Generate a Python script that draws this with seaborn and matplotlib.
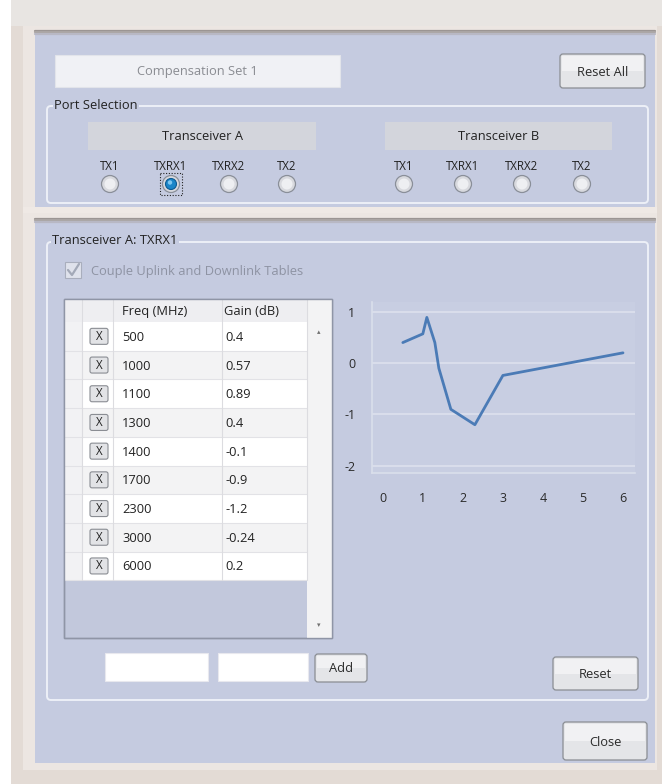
import numpy as np
import pandas as pd
import matplotlib
matplotlib.use("Agg")
import matplotlib.pyplot as plt
import seaborn as sns
from matplotlib.patches import Rectangle, FancyBboxPatch, Circle

# ---------------- data ----------------
freq_mhz = [500, 1000, 1100, 1300, 1400, 1700, 2300, 3000, 6000]
gain_db = [0.4, 0.57, 0.89, 0.4, -0.1, -0.9, -1.2, -0.24, 0.2]
freq_labels = ["500", "1000", "1100", "1300", "1400", "1700", "2300", "3000", "6000"]
gain_labels = ["0.4", "0.57", "0.89", "0.4", "-0.1", "-0.9", "-1.2", "-0.24", "0.2"]
x_ticks = [0, 1, 2, 3, 4, 5, 6]
y_ticks = [-2, -1, 0, 1]
ports = ["TX1", "TXRX1", "TXRX2", "TX2"]
transceivers = ["Transceiver A", "Transceiver B"]

sns.set_theme(style="white")
plt.rcParams['font.family'] = ['Open Sans', 'DejaVu Sans']

W, H = 662, 784
fig = plt.figure(figsize=(W / 100, H / 100), dpi=100)
fig.patch.set_facecolor("white")

bg = fig.add_axes([0, 0, 1, 1])
bg.set_xlim(0, W)
bg.set_ylim(H, 0)
bg.axis("off")

PANEL = "#c5cbe0"
BEIGE = "#e3dbd5"
TXT = "#222222"
FS = 9.3


def rect(x0, y0, x1, y1, fc, ec="none", lw=0.8, z=1, ls="-"):
    bg.add_patch(Rectangle((x0, y0), x1 - x0, y1 - y0, facecolor=fc,
                           edgecolor=ec, lw=lw, zorder=z, ls=ls))


def rrect(x0, y0, x1, y1, fc, ec="none", lw=0.8, z=1, r=3):
    bg.add_patch(FancyBboxPatch((x0 + r, y0 + r), x1 - x0 - 2 * r, y1 - y0 - 2 * r,
                                boxstyle=f"round,pad={r}", facecolor=fc,
                                edgecolor=ec, lw=lw, zorder=z))


def txt(x, y, s, ha="left", color=TXT, fs=FS, z=5, bgc=None):
    t = bg.text(x, y, s, ha=ha, va="center", color=color, fontsize=fs, zorder=z)
    if bgc:
        t.set_bbox(dict(facecolor=bgc, edgecolor="none", pad=1.0))
    return t


def button(x0, y0, x1, y1, label):
    rrect(x0, y0, x1, y1, "#e4e5e8", ec="#8a8d93", lw=0.9, z=3, r=3)
    rect(x0 + 2, y0 + 2, x1 - 2, (y0 + y1) / 2, "#f1f1f3", z=3.5)
    txt((x0 + x1) / 2, (y0 + y1) / 2 + 1, label, ha="center", color="#2a2a2a", z=6)


# ---------------- window frame ----------------
rect(11, 0, W, H, BEIGE, z=0)
rect(11, 0, W, 26, "#e8e5e2", z=0.3)
rect(23, 26, 657, 770, "#ece6e2", z=0.5)
rect(35, 33, 655, 208, PANEL, z=1)
rect(35, 222, 655, 763, PANEL, z=1)
for k, c in enumerate(["#9a9491", "#aaa5a4", "#b8b8c4"]):
    bg.plot([35, 655], [30.5 + k * 1.5, 30.5 + k * 1.5], color=c, lw=1.6, zorder=2)
    bg.plot([35, 655], [218.5 + k * 1.5, 218.5 + k * 1.5], color=c, lw=1.6, zorder=2)
rect(23, 207, 657, 213, "#efe9e5", z=1)

# ---------------- top panel ----------------
rect(55, 55, 340, 87, "#f0f1f5", ec="#e2e4ea", z=2)
txt(197, 71, "Compensation Set 1", ha="center", color="#8a8c92")
button(560, 54, 645, 88, "Reset All")

rrect(47, 106, 648, 203, "none", ec="#edf0f7", lw=1.4, z=2, r=4)
txt(54, 105, "Port Selection", bgc=PANEL)

hdr_boxes = [(88, 316), (385, 612)]
radio_x = [[110, 171, 229, 287], [404, 463, 522, 582]]
for (hx0, hx1), name, rxs in zip(hdr_boxes, transceivers, radio_x):
    rect(hx0, 122, hx1, 150, "#d3d5dc", z=2)
    txt((hx0 + hx1) / 2, 136, name, ha="center")
    for p, rx in zip(ports, rxs):
        txt(rx, 166, p, ha="center", fs=8.3)
        sel = (name == "Transceiver A" and p == "TXRX1")
        bg.add_patch(Circle((rx, 184), 8.5, facecolor="#d8d9de", edgecolor="#8a8f99", lw=0.9, zorder=3))
        if sel:
            bg.add_patch(Circle((rx, 184), 5.5, facecolor="#1b86c9", edgecolor="#0d5b93", lw=0.8, zorder=4))
            bg.add_patch(Circle((rx - 1, 182.5), 2.2, facecolor="#7cc6f0", edgecolor="none", zorder=4.5))
            rect(rx - 11, 173, rx + 11, 195, "none", ec="#222222", lw=0.8, z=4, ls=(0, (1, 1.5)))
        else:
            bg.add_patch(Circle((rx, 184), 5.5, facecolor="#eeeff2", edgecolor="none", zorder=4))

# ---------------- lower panel ----------------
rrect(47, 242, 648, 700, "none", ec="#edf0f7", lw=1.4, z=2, r=4)
txt(52, 240, "Transceiver A: TXRX1", bgc=PANEL)

rect(65, 262, 81, 278, "#dfe2ec", ec="#a9aebd", z=3)
bg.plot([68, 72, 79], [270, 275, 264], color="#a3a9b8", lw=1.6, zorder=4)
txt(91, 271, "Couple Uplink and Downlink Tables", color="#8e93a3")

# table
T_L, T_R, T_T, T_B = 64, 332, 299, 638
col_edges = [64, 82, 113, 222, 307]
HDR_B = 322
ROW_H = 28.7
rect(T_L, T_T, T_R, T_B, "#c2c8dc", ec="#8f95a6", lw=1.0, z=2)
rect(307, T_T, T_R, T_B, "#f3f3f4", z=2.5)
rect(T_L, T_T, 307, HDR_B, "#eeeef1", z=2.5)
txt(122, 311, "Freq (MHz)", z=6)
txt(224, 311, "Gain (dB)", z=6)
n = len(freq_mhz)
for i in range(n):
    y0 = HDR_B + i * ROW_H
    fc = "white" if i % 2 == 0 else "#f3f3f4"
    rect(col_edges[0], y0, col_edges[1], y0 + ROW_H, "#f2f2f4", z=2.6)
    rect(col_edges[1], y0, 307, y0 + ROW_H, fc, z=2.6)
    bg.plot([col_edges[0], 307], [y0 + ROW_H, y0 + ROW_H], color="#e2e2e6", lw=0.8, zorder=2.8)
    cy = y0 + ROW_H / 2
    rrect(90, cy - 8, 108, cy + 8, "#e2e3e6", ec="#8a8d93", lw=0.8, z=3, r=2)
    txt(99, cy, "X", ha="center", fs=8.3, z=6)
    txt(122, cy + 1, freq_labels[i], z=6)
    txt(225, cy + 1, gain_labels[i], z=6)
for cx in col_edges[1:]:
    bg.plot([cx, cx], [T_T, HDR_B + n * ROW_H], color="#dcdce0", lw=0.8, zorder=2.9)
rect(T_L, T_T, T_R, T_B, "none", ec="#8f95a6", lw=1.0, z=3)
txt(319, 333, "\u25b4", ha="center", fs=5, color="#707070")
txt(319, 626, "\u25be", ha="center", fs=5, color="#707070")

# inputs and buttons
rect(105, 653, 208, 681, "white", ec="#e8e8ee", z=2)
rect(218, 653, 308, 681, "white", ec="#e8e8ee", z=2)
button(315, 654, 367, 682, "Add")
button(553, 657, 638, 690, "Reset")
button(563, 722, 647, 760, "Close")

# ---------------- chart ----------------
ax_l, ax_r, ax_t, ax_b = 372, 635, 302, 473
ax = fig.add_axes([ax_l / W, 1 - ax_b / H, (ax_r - ax_l) / W, (ax_b - ax_t) / H])
ax.set_facecolor("#c8cee2")
df = pd.DataFrame({"Freq (GHz)": np.array(freq_mhz) / 1000.0, "Gain (dB)": gain_db})
sns.lineplot(data=df, x="Freq (GHz)", y="Gain (dB)", ax=ax, color="#4b7bb6", lw=2.0, zorder=5)
ax.set_xlim(-0.27, 6.3)
ax.set_ylim(-2.14, 1.19)
ax.set_xticks(x_ticks)
ax.set_yticks(y_ticks)
ax.set_xticklabels([str(v) for v in x_ticks])
ax.set_yticklabels([str(v) for v in y_ticks])
ax.grid(axis="y", color="#dde1ee", lw=1.2)
ax.grid(axis="x", visible=False)
ax.set_xlabel("")
ax.set_ylabel("")
for s in ["top", "right"]:
    ax.spines[s].set_visible(False)
ax.spines["left"].set_color("#dadfeb")
ax.spines["bottom"].set_color("#dadfeb")
ax.spines["left"].set_linewidth(1.2)
ax.spines["bottom"].set_linewidth(1.2)
ax.tick_params(axis="both", which="both", direction="out", length=8, width=1.0,
               color="#d5d9e6", labelcolor="#2a2a2a", labelsize=9)
ax.tick_params(axis="x", pad=6)
ax.tick_params(axis="y", pad=4)

fig.savefig("out.png", dpi=100, facecolor="white")
